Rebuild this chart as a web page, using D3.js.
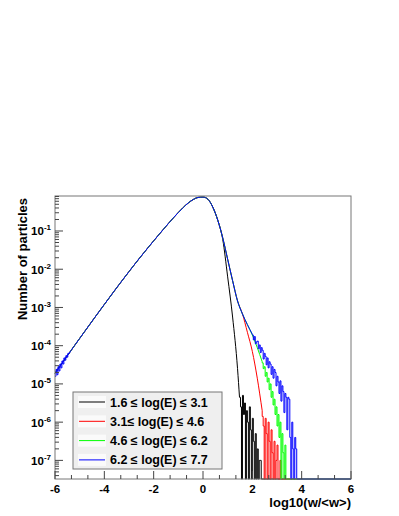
<!DOCTYPE html>
<html>
<head>
<meta charset="utf-8">
<script src="https://cdn.jsdelivr.net/npm/d3@7/dist/d3.min.js"></script>
<style>
body { margin: 0; background: #fff; }
text { font-family: "Liberation Sans", Arial, sans-serif; font-weight: bold; fill: #000; }
</style>
</head>
<body>
<svg id="chart"></svg>
<script>
// rising side and peak: the four energy bins lie on top of each other here (log10 of the value)
var bodyX = [-6.0,-5.8,-5.6,-5.4,-5.2,-5.0,-4.8,-4.6,-4.4,-4.2,-4.0,-3.8,-3.6,-3.4,-3.2,-3.0,-2.8,-2.6,-2.4,-2.2,-2.0,-1.8,-1.6,-1.4,-1.2,-1.0,-0.8,-0.6,-0.4,-0.2,0.0,0.2,0.4,0.6];
var bodyLog = [-4.72,-4.536,-4.353,-4.171,-3.990,-3.810,-3.631,-3.452,-3.274,-3.097,-2.921,-2.746,-2.572,-2.400,-2.230,-2.062,-1.896,-1.732,-1.572,-1.414,-1.258,-1.104,-0.952,-0.802,-0.656,-0.516,-0.384,-0.268,-0.178,-0.122,-0.112,-0.17,-0.38,-0.72];

// falling side, smooth part
var blackTailX = [0.8,1.0,1.2,1.4,1.48];
var blackTailLog = [-1.22,-2.2,-3.25,-4.6,-5.35];
var redTailX = [0.8,1.0,1.2,1.4,1.6,1.8,2.0,2.2,2.4];
var redTailLog = [-1.18,-1.74,-2.30,-2.83,-3.17,-3.65,-4.15,-4.85,-5.7];
var greenTailX = [0.8,1.0,1.2,1.4,1.6,1.8,2.0,2.2,2.4];
var greenTailLog = [-1.18,-1.74,-2.30,-2.83,-3.17,-3.45,-3.72,-4.05,-4.42];
var blueTailX = [0.8,1.0,1.2,1.4,1.6,1.8,2.0];
var blueTailLog = [-1.18,-1.74,-2.30,-2.83,-3.17,-3.45,-3.70];

// noisy histogram bins (width 0.04), null = empty bin
var binWidth = 0.04;
var blackNoise = [-5.35,-5.6,null,-5.3,-5.8,-5.5,null,-5.7,-6.0,null,-5.6,-6.2,null,-5.9,-6.5,null,-6.3,null,-6.7,null,-7.0,-7.0];
var redNoise = [-5.85,-6.1,null,-5.9,-6.3,null,-6.0,-6.5,null,-6.2,-6.8,null,-6.5,null,-7.0,-6.6,null,null,-7.0,null];
var greenNoise = [-4.45,-4.60,-4.55,-4.80,-4.70,-4.95,-4.85,-5.15,-5.00,-5.35,-5.20,-5.55,-5.40,-5.80,-5.60,-6.10,-5.80,-6.40,-6.00,null,-6.30,-6.80,null,-6.60,null];
var blueNoise = [-3.72,-3.85,-3.76,-3.95,-3.90,-3.88,-4.08,-3.98,-4.18,-4.05,-4.12,-4.35,-4.20,-4.28,-4.50,-4.32,-4.58,-4.42,-4.48,-4.75,-4.55,-4.85,-4.62,-4.70,-5.05,-4.80,-4.95,-5.25,-4.92,-5.45,-5.05,-5.20,-5.75,-5.25,-5.35,-6.20,-5.35,-5.40,-6.40,null,-6.00,-6.70,null,-6.40,-6.70,null];
var blueLeftNoise = [-4.80,-4.62,-4.76,-4.55,-4.66,-4.48,-4.58,-4.40,-4.48,-4.32,-4.38,-4.26,-4.30,-4.20,-4.19];

var labels = ["1.6 \u2264 log(E) \u2264 3.1", "3.1\u2264 log(E) \u2264 4.6", "4.6 \u2264 log(E) \u2264 6.2", "6.2 \u2264 log(E) \u2264 7.7"];
var colors = ["#000000", "#ff0000", "#00ff00", "#0000ff"];
var xTicks = [-6,-4,-2,0,2,4,6];
var yDecades = [-7,-6,-5,-4,-3,-2,-1];

var series = [
  {tailX: blackTailX, tailLog: blackTailLog, noise: blackNoise},
  {tailX: redTailX, tailLog: redTailLog, noise: redNoise},
  {tailX: greenTailX, tailLog: greenTailLog, noise: greenNoise},
  {tailX: blueTailX, tailLog: blueTailLog, noise: blueNoise}
];

var width = 399, height = 516;
var plotL = 55, plotR = 351, plotT = 196, plotB = 479;
var logMin = -7.487, logMax = -0.0845;

var svg = d3.select("#chart").attr("width", width).attr("height", height);

var x = d3.scaleLinear().domain([-6, 6]).range([plotL, plotR]);
var y = d3.scaleLog().domain([Math.pow(10, logMin), Math.pow(10, logMax)]).range([plotB, plotT]);

var smoothLine = d3.line()
  .x(function(d) { return x(d[0]); })
  .y(function(d) { return y(Math.pow(10, d[1])); })
  .curve(d3.curveMonotoneX);
var stepLine = d3.line()
  .x(function(d) { return x(d[0]); })
  .y(function(d) { return y(Math.pow(10, d[1])); })
  .curve(d3.curveStepAfter);

var curves = svg.append("g").attr("fill", "none").attr("stroke-width", 1);

series.forEach(function(s, i) {
  var pts = bodyX.map(function(v, j) { return [v, bodyLog[j]]; });
  s.tailX.forEach(function(v, j) { pts.push([v, s.tailLog[j]]); });
  curves.append("path").attr("d", smoothLine(pts)).attr("stroke", colors[i]);

  var start = s.tailX[s.tailX.length - 1];
  var npts = [[start, s.tailLog[s.tailLog.length - 1]]];
  s.noise.forEach(function(v, j) {
    npts.push([start + j * binWidth, v == null ? logMin : v]);
  });
  npts.push([start + s.noise.length * binWidth, logMin]);
  npts.push([6, logMin]);
  curves.append("path").attr("d", stepLine(npts)).attr("stroke", colors[i]);

  if (i == 3) {
    var lpts = blueLeftNoise.map(function(v, j) { return [-6 + j * binWidth, v]; });
    lpts.push([-6 + blueLeftNoise.length * binWidth, bodyLog[3]]);
    curves.append("path").attr("d", stepLine(lpts)).attr("stroke", colors[i]);
  }
});

// frame
svg.append("rect")
  .attr("x", plotL).attr("y", plotT)
  .attr("width", plotR - plotL).attr("height", plotB - plotT)
  .attr("fill", "none").attr("stroke", "#777").attr("stroke-width", 1);

// x axis ticks
var ax = svg.append("g").attr("stroke", "#444").attr("stroke-width", 1);
for (var k = 0; k < xTicks.length - 1; k++) {
  for (var m = 1; m < 3; m++) {
    var xv = xTicks[k] + m * (xTicks[k + 1] - xTicks[k]) / 3;
    ax.append("line").attr("x1", x(xv)).attr("x2", x(xv)).attr("y1", plotB).attr("y2", plotB - 4);
  }
}
xTicks.forEach(function(t) {
  ax.append("line").attr("x1", x(t)).attr("x2", x(t)).attr("y1", plotB).attr("y2", plotB - 8);
});
svg.selectAll(".xlab")
  .data(xTicks)
  .enter()
  .append("text")
  .attr("x", function(d) { return x(d); })
  .attr("y", 493)
  .attr("text-anchor", "middle")
  .attr("font-size", "11.5px")
  .text(function(d) { return d; });

// y axis ticks (log)
for (var dd = -8; dd <= 0; dd++) {
  for (var f = 2; f <= 9; f++) {
    var val = f * Math.pow(10, dd);
    if (val > Math.pow(10, logMin) && val < Math.pow(10, logMax)) {
      ax.append("line").attr("x1", plotL).attr("x2", plotL + 4).attr("y1", y(val)).attr("y2", y(val));
    }
  }
}
yDecades.forEach(function(d) {
  ax.append("line").attr("x1", plotL).attr("x2", plotL + 8)
    .attr("y1", y(Math.pow(10, d))).attr("y2", y(Math.pow(10, d)));
  var t = svg.append("text")
    .attr("x", 51).attr("y", y(Math.pow(10, d)) + 4.5)
    .attr("text-anchor", "end")
    .attr("font-size", "11.5px");
  t.append("tspan").text("10");
  t.append("tspan").attr("dy", -5).attr("font-size", "8px").text(d);
});

// titles
svg.append("text")
  .attr("x", plotR).attr("y", 507)
  .attr("text-anchor", "end")
  .attr("font-size", "13px")
  .text("log10(w/<w>)");
svg.append("text")
  .attr("transform", "translate(27," + (plotT + 2) + ") rotate(-90)")
  .attr("text-anchor", "end")
  .attr("font-size", "13px")
  .text("Number of particles");

// legend
var legend = svg.append("g");
legend.append("rect")
  .attr("x", 73).attr("y", 392).attr("width", 149).attr("height", 77)
  .attr("fill", "#efefef").attr("stroke", "#777").attr("stroke-width", 1);
labels.forEach(function(lab, i) {
  var cy = 402 + i * 19.3;
  legend.append("rect").attr("x", 78).attr("y", cy - 6).attr("width", 28).attr("height", 12).attr("fill", "#fafafa");
  legend.append("line").attr("x1", 79).attr("x2", 105).attr("y1", cy).attr("y2", cy)
    .attr("stroke", colors[i]).attr("stroke-width", 1);
  legend.append("text").attr("x", 110).attr("y", cy + 4.5).attr("font-size", "12.5px").text(lab);
});
</script>
</body>
</html>
